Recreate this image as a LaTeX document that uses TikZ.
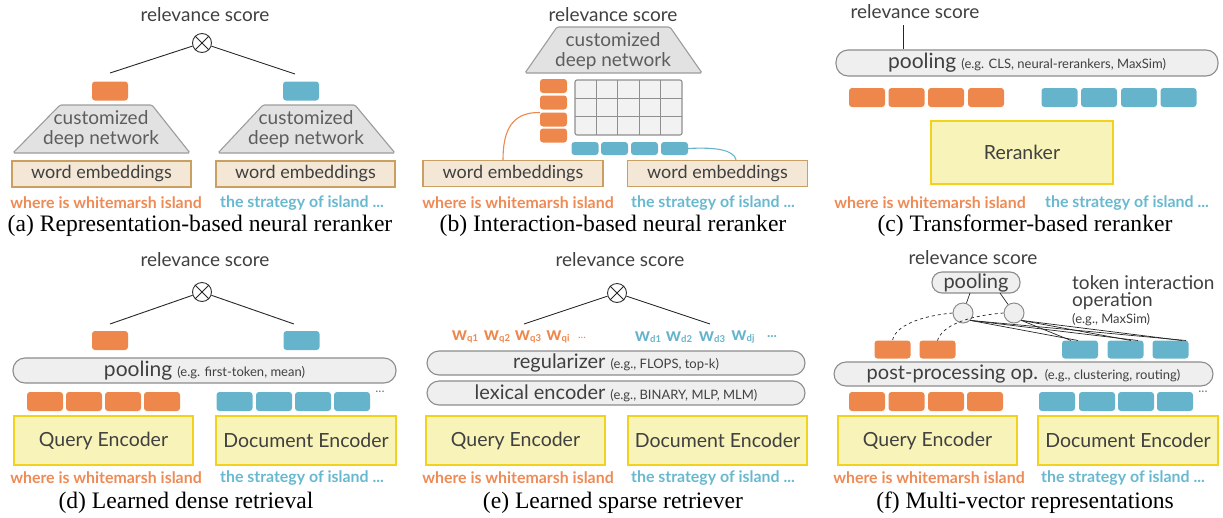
\documentclass[tikz,border=0pt]{standalone}
\usepackage{fontspec}
\setmainfont{Lato}
\newfontfamily\capserif{Liberation Serif}
\definecolor{qorange}{HTML}{EE874B}
\definecolor{dblue}{HTML}{66B4CC}
\definecolor{qtext}{HTML}{EE8A55}
\definecolor{dtext}{HTML}{68B8D0}
\definecolor{pillfill}{HTML}{EFEFEF}
\definecolor{pilldraw}{HTML}{8C8C8C}
\definecolor{trapfill}{HTML}{E2E2E2}
\definecolor{trapdraw}{HTML}{9C9C9C}
\definecolor{embfill}{HTML}{F4E7D6}
\definecolor{embdraw}{HTML}{C9A062}
\definecolor{encfill}{HTML}{F8F3B9}
\definecolor{encdraw}{HTML}{F2D21C}
\definecolor{txtgray}{HTML}{404040}
\definecolor{gridfill}{HTML}{F2F2F2}
\definecolor{griddraw}{HTML}{8F8F8F}
\newcommand\relfnt{\fontsize{19}{22}\selectfont}
\newcommand\boxfnt{\fontsize{18}{20}\selectfont}
\newcommand\trapfnt{\fontsize{19}{20.5}\selectfont}
\newcommand\pillfnt{\fontsize{20}{22}\selectfont}
\newcommand\encfnt{\fontsize{19.5}{22}\selectfont}
\newcommand\qfnt{\fontsize{15.9}{18}\selectfont\bfseries}
\newcommand\capfnt{\capserif\fontsize{23.6}{26}\selectfont}
\newcommand\smallfnt{\fontsize{13}{15}\selectfont}
\newcommand\wbig{\fontsize{19}{20}\selectfont\bfseries}
\newcommand\wsub[1]{\raisebox{-1.5pt}{\fontsize{9.5}{10}\selectfont\bfseries #1}}
\begin{document}
\begin{tikzpicture}[x=1pt,y=-1pt,
  vecbox/.style={rounded corners=3pt, minimum height=19pt, minimum width=36pt, inner sep=0pt, outer sep=0pt},
  ovec/.style={vecbox, fill=qorange},
  bvec/.style={vecbox, fill=dblue},
  pill/.style={draw=pilldraw, fill=pillfill, line width=1.1pt, rounded corners=12pt, inner sep=0pt, minimum height=25pt, text=txtgray, font=\pillfnt},
  emb/.style={draw=embdraw, fill=embfill, line width=1.4pt, minimum height=26pt, minimum width=179pt, inner sep=0pt, text=txtgray, font=\boxfnt},
  enc/.style={draw=encdraw, fill=encfill, line width=1.4pt, minimum height=49pt, minimum width=179pt, inner sep=0pt, text=txtgray, font=\encfnt},
  trap/.style={draw=trapdraw, fill=trapfill, line width=1.1pt, rounded corners=1.5pt},
  traptxt/.style={align=center, text=txtgray!85, font=\trapfnt, inner sep=0pt},
  qtxt/.style={text=qtext, font=\qfnt, inner sep=0pt},
  dtxt/.style={text=dtext, font=\qfnt, inner sep=0pt},
  captxt/.style={font=\capfnt, inner sep=0pt},
  rel/.style={font=\relfnt, text=txtgray, inner sep=0pt},
  otim/.style={circle, draw=black!80, line width=0.9pt, minimum size=19pt, inner sep=0pt, fill=white},
  link/.style={draw=black!85, line width=0.9pt},
  wq/.style={text=qorange, inner sep=0pt},
  wd/.style={text=dblue, inner sep=0pt},
  smallc/.style={circle, draw=pilldraw, fill=pillfill, line width=1pt, minimum size=20pt, inner sep=0pt},
  dots/.style={text=txtgray!70, font=\smallfnt, inner sep=0pt}
]
\useasboundingbox (0,0) rectangle (1223,517);

% ================= (a) =================
\node[rel] (a-rel) at (205,15) {relevance score};
\node[otim] (a-x) at (202,43) {};
\draw[link] (a-x.north east)--(a-x.south west) (a-x.north west)--(a-x.south east);
\node[ovec] (a-q) at (110,91) {};
\node[bvec] (a-d) at (301,91) {};
\coordinate (a-ql) at (110,73);
\coordinate (a-dl) at (295,74);
\draw[link] (a-x) -- (a-ql);
\draw[link] (a-x) -- (a-dl);
\draw[trap] (60,105) -- (152,105) -- (190,153) -- (13,153) -- cycle;
\node[traptxt] (a-tq) at (101,129) {customized\\deep network};
\draw[trap] (263,105) -- (355,105) -- (395,153) -- (218,153) -- cycle;
\node[traptxt] (a-td) at (306,129) {customized\\deep network};
\node[emb] (a-eq) at (101.5,174) {word embeddings};
\node[emb] (a-ed) at (305.5,174) {word embeddings};
\node[qtxt] (a-qt) at (106,203) {where is whitemarsh island};
\node[dtxt] (a-dt) at (302,203) {the strategy of island ...};
\node[captxt] (a-cap) at (200,226) {(a) Representation-based neural reranker};

% ================= (b) =================
\node[rel] (b-rel) at (613,15) {relevance score};
\draw[trap] (557,27) -- (670,27) -- (702,73) -- (525,73) -- cycle;
\node[traptxt] (b-t) at (613,51) {customized\\deep network};
\node[ovec, minimum width=27pt, minimum height=14pt] (b-q1) at (553.5,86) {};
\node[ovec, minimum width=27pt, minimum height=14pt] (b-q2) at (553.5,102.5) {};
\node[ovec, minimum width=27pt, minimum height=14pt] (b-q3) at (553.5,119.5) {};
\node[ovec, minimum width=27pt, minimum height=14pt] (b-q4) at (553.5,135.5) {};
\node[draw=griddraw, fill=gridfill, line width=1.1pt, rounded corners=2pt, minimum width=107pt, minimum height=55pt, inner sep=0pt] (b-grid) at (628.5,107.5) {};
\foreach \i in {1,...,4} \draw[draw=griddraw, line width=1.1pt] (575+\i*21.4,80) -- (575+\i*21.4,135);
\foreach \j in {1,2} \draw[draw=griddraw, line width=1.1pt] (575,80+\j*18.33) -- (682,80+\j*18.33);
\node[bvec, minimum width=27pt, minimum height=13pt] (b-d1) at (585,148.5) {};
\node[bvec, minimum width=27pt, minimum height=13pt] (b-d2) at (614.5,148.5) {};
\node[bvec, minimum width=27pt, minimum height=13pt] (b-d3) at (644.5,148.5) {};
\node[bvec, minimum width=27pt, minimum height=13pt] (b-d4) at (674.5,148.5) {};
\node[emb, minimum width=180pt] (b-eq) at (513,173.5) {word embeddings};
\node[emb, minimum width=180pt] (b-ed) at (717.5,173.5) {word embeddings};
\draw[draw=qorange, line width=1.1pt] (b-q3.north west) .. controls (512,112) and (503,130) .. (b-eq.north -| 503,0);
\draw[draw=dblue, line width=1.1pt] (b-d4.east) .. controls (716,147) and (734,150) .. (b-ed.north -| 736,0);
\node[qtxt] (b-qt) at (518,203) {where is whitemarsh island};
\node[dtxt] (b-dt) at (713,203) {the strategy of island ...};
\node[captxt] (b-cap) at (613,226) {(b) Interaction-based neural reranker};

% ================= (c) =================
\node[rel] (c-rel) at (915,12) {relevance score};
\node[pill, minimum width=382pt, minimum height=26pt] (c-pool) at (1027,63) {{\fontsize{21}{22}\selectfont pooling} {\smallfnt (e.g. CLS, neural-rerankers, MaxSim)}};
\coordinate (c-top) at (903,25);
\draw[link] (c-top) -- (c-top |- c-pool.north);
\node[ovec] (c-q1) at (867,97.5) {};
\node[ovec] (c-q2) at (906.5,97.5) {};
\node[ovec] (c-q3) at (946,97.5) {};
\node[ovec] (c-q4) at (986,97.5) {};
\node[bvec] (c-d1) at (1059.5,97.5) {};
\node[bvec] (c-d2) at (1099,97.5) {};
\node[bvec] (c-d3) at (1139,97.5) {};
\node[bvec] (c-d4) at (1178.5,97.5) {};
\node[enc, minimum width=182pt, minimum height=63pt] (c-rr) at (1022,152.5) {Reranker};
\node[qtxt] (c-qt) at (930,203) {where is whitemarsh island};
\node[dtxt] (c-dt) at (1127,203) {the strategy of island ...};
\node[captxt] (c-cap) at (1025,226) {(c) Transformer-based reranker};

% ================= (d) =================
\node[rel] (d-rel) at (205,260) {relevance score};
\node[otim] (d-x) at (202,292) {};
\draw[link] (d-x.north east)--(d-x.south west) (d-x.north west)--(d-x.south east);
\coordinate (d-ql) at (110,324);
\coordinate (d-dl) at (294,324);
\draw[link] (d-x) -- (d-ql);
\draw[link] (d-x) -- (d-dl);
\node[ovec] (d-q) at (110,340.5) {};
\node[bvec] (d-d) at (301.5,340.5) {};
\node[pill, minimum width=383pt] (d-pool) at (204.5,370.5) {{\fontsize{21}{22}\selectfont pooling} {\smallfnt (e.g. first-token, mean)}};
\node[ovec] (d-q1) at (45,401.5) {};
\node[ovec] (d-q2) at (84,401.5) {};
\node[ovec] (d-q3) at (123,401.5) {};
\node[ovec] (d-q4) at (162,401.5) {};
\node[bvec] (d-d1) at (234.5,401.5) {};
\node[bvec] (d-d2) at (274,401.5) {};
\node[bvec] (d-d3) at (313,401.5) {};
\node[bvec] (d-d4) at (352,401.5) {};
\node[dots] (d-dots) at (380,392) {...};
\node[enc] (d-qe) at (103.5,440.5) {Query Encoder};
\node[enc, minimum width=180pt] (d-de) at (306,440.5) {Document Encoder};
\node[qtxt] (d-qt) at (106,478) {where is whitemarsh island};
\node[dtxt] (d-dt) at (302,478) {the strategy of island ...};
\node[captxt] (d-cap) at (186,503) {(d) Learned dense retrieval};

% ================= (e) =================
\node[rel] (e-rel) at (620,260) {relevance score};
\node[otim] (e-x) at (617,293) {};
\draw[link] (e-x.north east)--(e-x.south west) (e-x.north west)--(e-x.south east);
\coordinate (e-ql) at (524,324);
\coordinate (e-dl) at (710,324);
\draw[link] (e-x) -- (e-ql);
\draw[link] (e-x) -- (e-dl);
\node[wq] (e-wq1) at (465,337) {\wbig w\wsub{q1}};
\node[wq] (e-wq2) at (497,337) {\wbig w\wsub{q2}};
\node[wq] (e-wq3) at (528,337) {\wbig w\wsub{q3}};
\node[wq] (e-wqi) at (558,337) {\wbig w\wsub{qi}};
\node[wq, font=\fontsize{11}{12}\selectfont] (e-wqd) at (582,338) {...};
\node[wd] (e-wd1) at (648,337) {\wbig w\wsub{d1}};
\node[wd] (e-wd2) at (679,337) {\wbig w\wsub{d2}};
\node[wd] (e-wd3) at (712,337) {\wbig w\wsub{d3}};
\node[wd] (e-wdj) at (743,337) {\wbig w\wsub{dj}};
\node[wd, font=\fontsize{14}{15}\selectfont\bfseries] (e-wdd) at (772,337) {...};
\node[pill, minimum width=378pt, minimum height=24pt] (e-reg) at (616,363) {regularizer {\smallfnt (e.g., FLOPS, top-k)}};
\node[pill, minimum width=378pt, minimum height=24pt] (e-lex) at (616,393) {lexical encoder {\smallfnt (e.g., BINARY, MLP, MLM)}};
\node[enc] (e-qe) at (515.5,440.5) {Query Encoder};
\node[enc] (e-de) at (717.5,440.5) {Document Encoder};
\node[qtxt] (e-qt) at (518,478) {where is whitemarsh island};
\node[dtxt] (e-dt) at (713,478) {the strategy of island ...};
\node[captxt] (e-cap) at (613,503) {(e) Learned sparse retriever};

% ================= (f) =================
\node[rel] (f-rel) at (973,258) {relevance score};
\node[pill, minimum width=88pt, minimum height=21pt, rounded corners=10pt] (f-pool) at (976,282.5) {pooling};
\node[smallc] (f-c1) at (963,313) {};
\node[smallc] (f-c2) at (1014,313) {};
\coordinate (f-p1) at (970,293);
\coordinate (f-p2) at (1000,293);
\draw[link, line width=0.7pt] (f-p1) -- (f-c1);
\draw[link, line width=0.7pt] (f-p2) -- (f-c2);
\node[ovec, minimum height=18pt] (f-q1) at (892.5,349.5) {};
\node[ovec, minimum height=18pt] (f-q2) at (937.5,349.5) {};
\node[bvec, minimum height=18pt] (f-d1) at (1080,349.5) {};
\node[bvec, minimum height=18pt] (f-d2) at (1125.5,349.5) {};
\node[bvec, minimum height=18pt] (f-d3) at (1170.5,349.5) {};
\draw[link, line width=0.7pt, dashed] (f-c1.west) .. controls (920,316) and (895,326) .. (f-q1.north);
\draw[link, line width=0.7pt, dashed] (f-c2.west) .. controls (966,316) and (942,326) .. (f-q2.north);
\foreach \t in {1078,1138,1186} \draw[link, line width=0.7pt] (f-c1.south east) -- (\t,340.5);
\foreach \t in {1071,1131,1182} \draw[link, line width=0.7pt] (f-c2.south east) -- (\t,340.5);
\node[anchor=west, align=left, font=\fontsize{19}{17}\selectfont, text=txtgray, inner sep=0pt] (f-tio) at (1072,293) {token interaction\\operation};
\node[anchor=west, font=\smallfnt, text=txtgray, inner sep=0pt] (f-eg) at (1072,320) {(e.g., MaxSim)};
\node[pill, minimum width=379pt, minimum height=24pt] (f-post) at (1023.5,374) {post-processing op. {\smallfnt (e.g., clustering, routing)}};
\node[ovec] (f-oq1) at (867,401.5) {};
\node[ovec] (f-oq2) at (906.5,401.5) {};
\node[ovec] (f-oq3) at (946,401.5) {};
\node[ovec] (f-oq4) at (985,401.5) {};
\node[bvec] (f-od1) at (1057,401.5) {};
\node[bvec] (f-od2) at (1097,401.5) {};
\node[bvec] (f-od3) at (1136,401.5) {};
\node[bvec] (f-od4) at (1175,401.5) {};
\node[dots] (f-dots) at (1203,392) {...};
\node[enc] (f-qe) at (927.5,440.5) {Query Encoder};
\node[enc, minimum width=180pt] (f-de) at (1128,440.5) {Document Encoder};
\node[qtxt] (f-qt) at (929,478) {where is whitemarsh island};
\node[dtxt] (f-dt) at (1123,478) {the strategy of island ...};
\node[captxt] (f-cap) at (1025,503) {(f) Multi-vector representations};
\end{tikzpicture}
\end{document}
